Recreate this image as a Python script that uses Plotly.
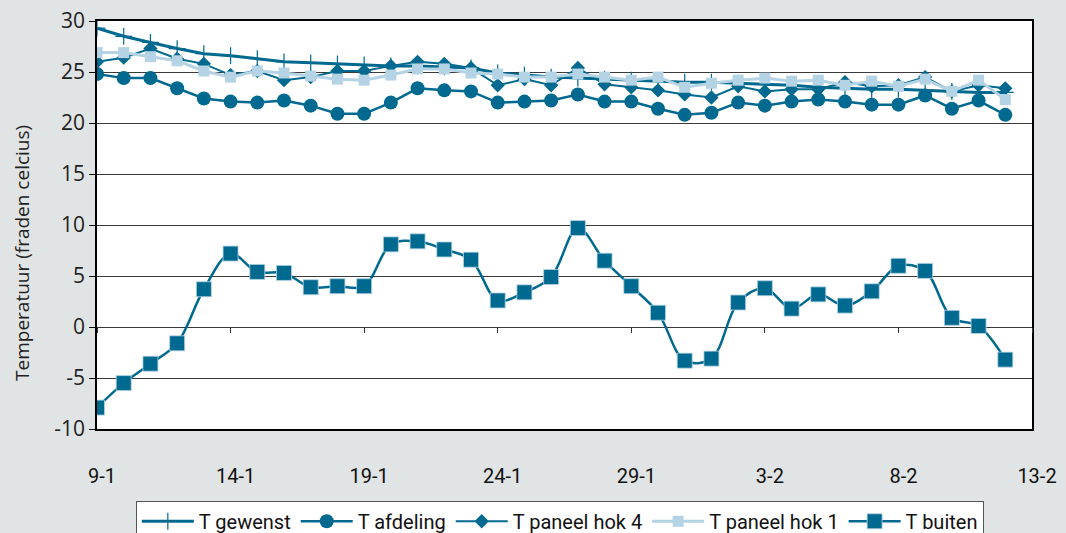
import plotly.graph_objects as go
import pandas as pd

dates = pd.date_range("2007-01-09", "2007-02-12", freq="D")

t_gewenst = [29.3, 28.5, 27.9, 27.3, 26.8, 26.6, 26.3, 26.0, 25.9, 25.8, 25.7, 25.6,
             25.6, 25.5, 25.4, 24.9, 24.7, 24.5, 24.4, 24.3, 24.2, 24.1, 24.0, 24.0,
             23.9, 23.8, 23.7, 23.5, 23.4, 23.3, 23.3, 23.2, 23.1, 23.0, 23.0]
t_afdeling = [24.8, 24.4, 24.4, 23.4, 22.4, 22.1, 22.0, 22.2, 21.7, 20.9, 20.9, 22.0,
              23.4, 23.2, 23.1, 22.0, 22.1, 22.2, 22.8, 22.1, 22.1, 21.4, 20.8, 21.0,
              22.0, 21.7, 22.1, 22.3, 22.1, 21.8, 21.8, 22.7, 21.4, 22.2, 20.8]
t_hok4 = [26.0, 26.4, 27.3, 26.3, 25.8, 24.7, 25.1, 24.2, 24.5, 25.1, 25.1, 25.6,
          26.0, 25.8, 25.4, 23.7, 24.3, 23.7, 25.4, 23.8, 23.5, 23.2, 22.8, 22.5,
          23.6, 23.1, 23.3, 23.3, 24.0, 23.6, 23.7, 24.5, 23.1, 23.7, 23.4]
t_hok1 = [26.9, 26.9, 26.5, 26.1, 25.1, 24.5, 25.1, 24.9, 24.6, 24.3, 24.2, 24.7,
          25.3, 25.3, 24.9, 24.8, 24.5, 24.5, 24.8, 24.5, 24.2, 24.5, 23.5, 23.9,
          24.2, 24.4, 24.1, 24.2, 23.7, 24.1, 23.6, 24.3, 23.1, 24.2, 22.3]
t_buiten = [-7.9, -5.5, -3.6, -1.6, 3.7, 7.2, 5.4, 5.3, 3.9, 4.0, 4.0, 8.1,
            8.4, 7.6, 6.6, 2.6, 3.4, 4.9, 9.7, 6.5, 4.0, 1.4, -3.3, -3.1,
            2.4, 3.8, 1.8, 3.2, 2.1, 3.5, 6.0, 5.5, 0.9, 0.1, -3.2]

x_tick_dates = pd.date_range("2007-01-09", "2007-02-13", freq="5D")
x_tick_labels = ["9-1", "14-1", "19-1", "24-1", "29-1", "3-2", "8-2", "13-2"]
y_tick_vals = [-10, -5, 0, 5, 10, 15, 20, 25, 30]
y_tick_labels = ["-10", "-5", "0", "5", "10", "15", "20", "25", "30"]

DARK = "#00698F"
LIGHT = "#B4D3E4"
NARROW = "Liberation Sans Narrow, Arial Narrow, Roboto, sans-serif"

fig = go.Figure()
fig.add_trace(go.Scatter(x=dates, y=t_gewenst, name="T gewenst", mode="lines+markers",
                         line=dict(color=DARK, width=3),
                         marker=dict(symbol="cross-thin", size=12, line=dict(color=DARK, width=1.2))))
fig.add_trace(go.Scatter(x=dates, y=t_afdeling, name="T afdeling", mode="lines+markers",
                         line=dict(color=DARK, width=2.5),
                         marker=dict(symbol="circle", size=14, color=DARK)))
fig.add_trace(go.Scatter(x=dates, y=t_hok4, name="T paneel hok 4", mode="lines+markers",
                         line=dict(color=DARK, width=2),
                         marker=dict(symbol="diamond", size=11, color=DARK)))
fig.add_trace(go.Scatter(x=dates, y=t_hok1, name="T paneel hok 1", mode="lines+markers",
                         line=dict(color=LIGHT, width=3),
                         marker=dict(symbol="square", size=11, color=LIGHT)))
fig.add_trace(go.Scatter(x=dates, y=t_buiten, name="T buiten", mode="lines+markers",
                         line=dict(color=DARK, width=2.5, shape="spline", smoothing=1.0),
                         marker=dict(symbol="square", size=15, color=DARK,
                                     line=dict(color=LIGHT, width=0.8))))

x_range = [x_tick_dates[0], x_tick_dates[-1]]
fig.update_layout(
    width=1066, height=533,
    margin=dict(l=97, r=34, t=21, b=104),
    paper_bgcolor="#E1E4E4",
    plot_bgcolor="white",
    showlegend=True,
    legend=dict(orientation="h", x=0.495, xanchor="center",
                yref="container", y=0.022, yanchor="middle",
                bgcolor="white", bordercolor="#555555", borderwidth=1,
                font=dict(family=NARROW, size=20, color="#111111"),
                itemwidth=52, tracegroupgap=0),
    xaxis=dict(range=x_range, tickvals=x_tick_dates, ticktext=x_tick_labels,
               showgrid=False, zeroline=False, showline=True, linecolor="black",
               linewidth=1.5, mirror=True, ticks="", ticklabelstandoff=28,
               ticklabelshift=5, automargin=False,
               tickfont=dict(family=NARROW, size=20, color="#111111")),
    xaxis2=dict(range=x_range, overlaying="x", anchor="free", position=0.25,
                tickvals=x_tick_dates, showticklabels=False, ticks="outside",
                ticklen=5, tickcolor="#333333", tickwidth=1.2, showgrid=False,
                showline=False, zeroline=False, automargin=False),
    yaxis=dict(range=[-10, 30], tickvals=y_tick_vals, ticktext=y_tick_labels,
               showgrid=True, gridcolor="#3a3a3a", gridwidth=1.3, zeroline=False,
               showline=True, linecolor="black", linewidth=1.5, mirror=True,
               ticks="outside", ticklen=6, tickcolor="black", automargin=False,
               tickfont=dict(family="Open Sans, Noto Sans, sans-serif", size=21, color="#222222")),
)
fig.add_trace(go.Scatter(x=[dates[0]], y=[0], xaxis="x2", mode="markers",
                         marker=dict(opacity=0), showlegend=False, hoverinfo="skip"))
fig.add_annotation(text="Temperatuur (fraden celcius)", textangle=-90,
                   xref="paper", yref="paper", x=-0.080, y=0.432,
                   xanchor="center", yanchor="middle", showarrow=False,
                   font=dict(family="Open Sans, Noto Sans, sans-serif", size=19, color="#222222"))
fig.write_html("out.html", config={"displayModeBar": False},
               post_script="document.body.style.margin='0px';")
